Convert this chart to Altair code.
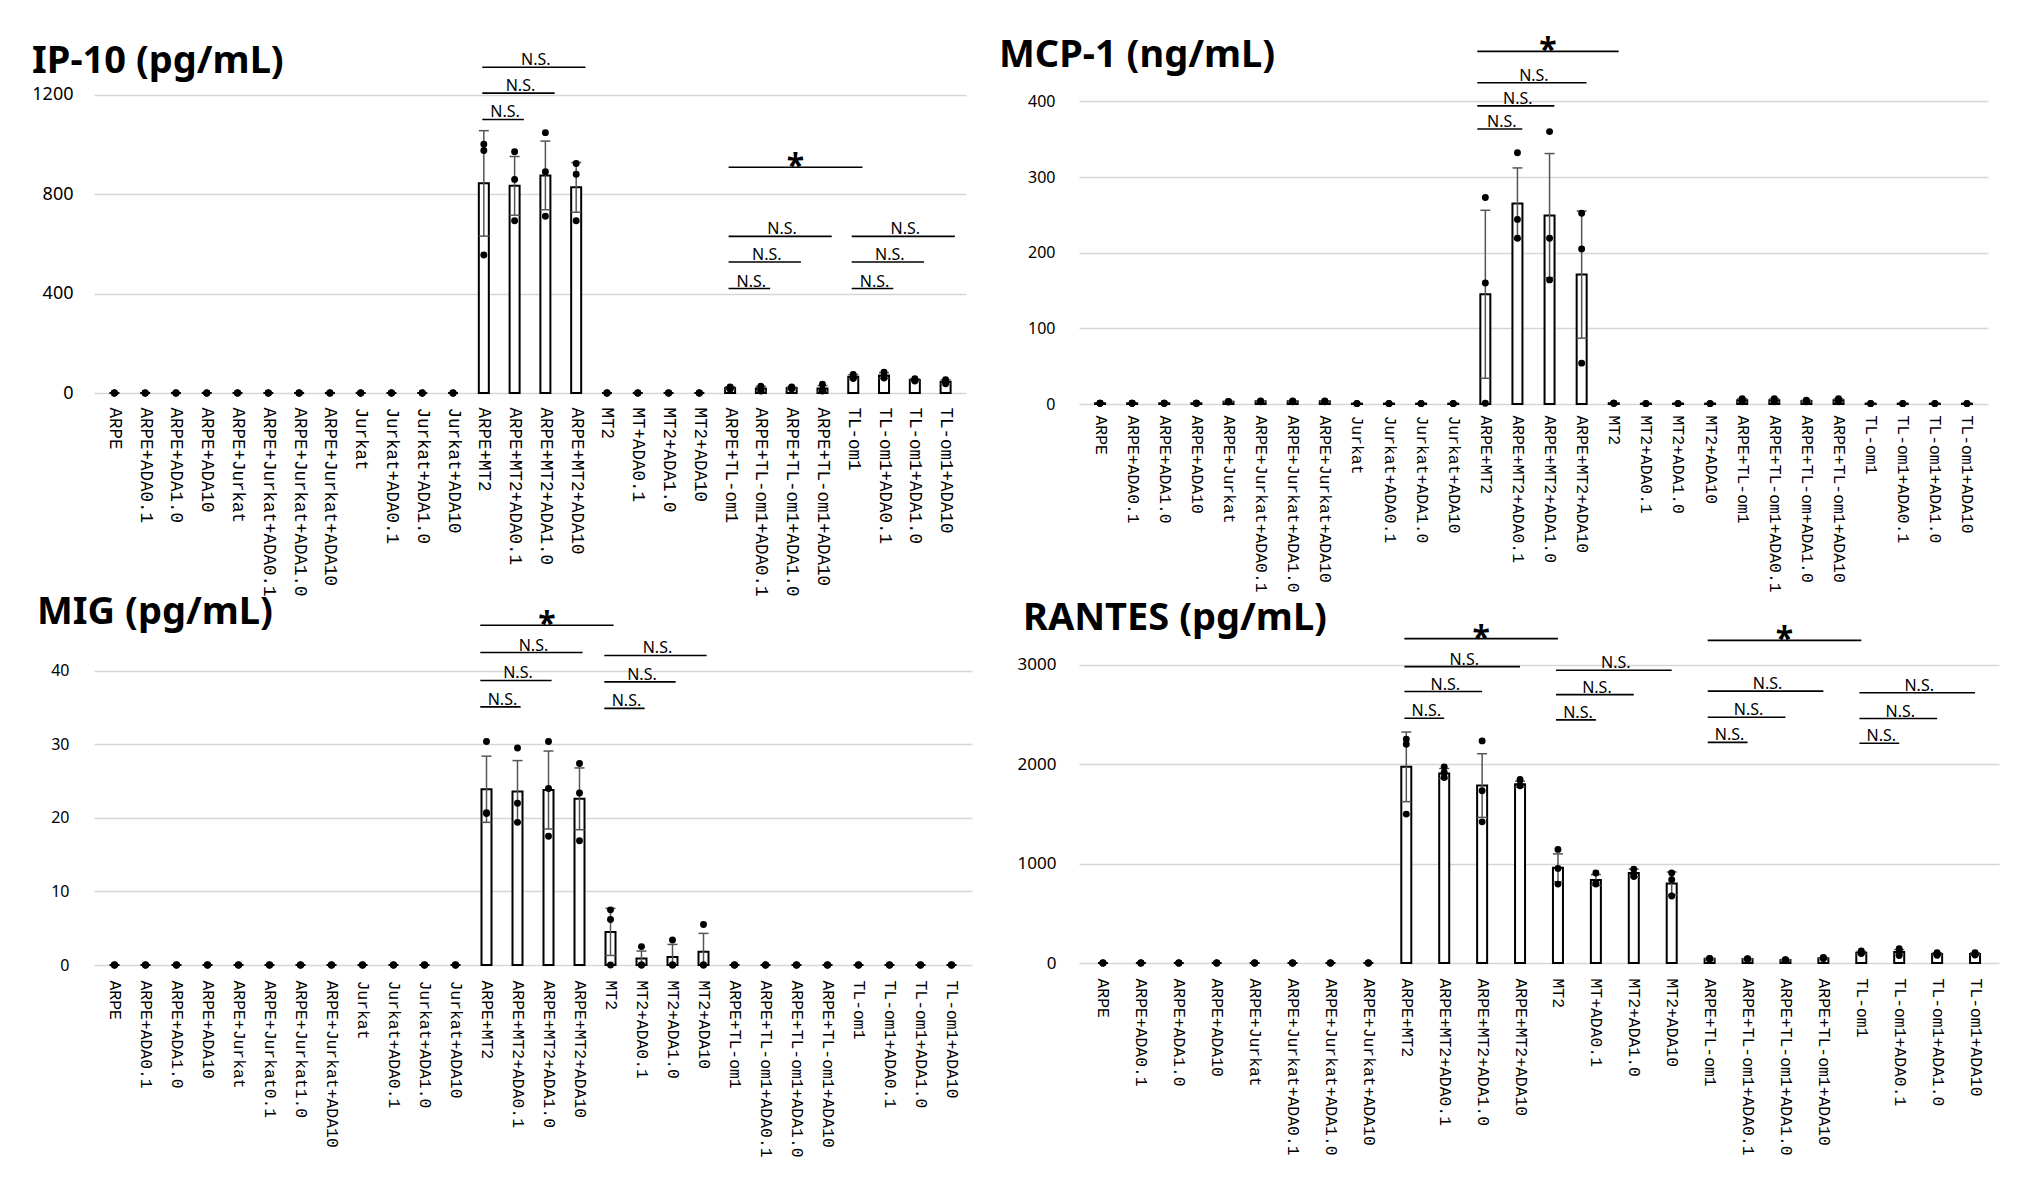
import json
import altair as alt
import pandas as pd

# ---------------- IP-10 ----------------
ip10_cats = ["ARPE", "ARPE+ADA0.1", "ARPE+ADA1.0", "ARPE+ADA10", "ARPE+Jurkat",
             "ARPE+Jurkat+ADA0.1", "ARPE+Jurkat+ADA1.0", "ARPE+Jurkat+ADA10",
             "Jurkat", "Jurkat+ADA0.1", "Jurkat+ADA1.0", "Jurkat+ADA10",
             "ARPE+MT2", "ARPE+MT2+ADA0.1", "ARPE+MT2+ADA1.0", "ARPE+MT2+ADA10",
             "MT2", "MT+ADA0.1", "MT2+ADA1.0", "MT2+ADA10",
             "ARPE+TL-om1", "ARPE+TL-om1+ADA0.1", "ARPE+TL-om1+ADA1.0", "ARPE+TL-om1+ADA10",
             "TL-om1", "TL-om1+ADA0.1", "TL-om1+ADA1.0", "TL-om1+ADA10"]
ip10_mean = [0, 0, 0, 0, 0, 0, 0, 0, 0, 0, 0, 0,
             843, 833, 875, 827, 0, 0, 0, 0,
             20, 18, 20, 18, 65, 70, 52, 45]
ip10_err = [0, 0, 0, 0, 0, 0, 0, 0, 0, 0, 0, 0,
            212, 118, 138, 100, 0, 0, 0, 0,
            5, 9, 4, 12, 9, 12, 5, 8]
ip10_pts = [[0, 0, 0], [0, 0, 0], [0, 0, 0], [0, 0, 0], [0, 0, 0], [0, 0, 0], [0, 0, 0],
            [0, 0, 0], [0, 0, 0], [0, 0, 0], [0, 0, 0], [0, 0, 0],
            [1000, 975, 555], [970, 859, 693], [1047, 890, 711], [923, 880, 693],
            [0, 0, 0], [0, 0, 0], [0, 0, 0], [0, 0, 0],
            [24, 21, 15], [27, 18, 8], [24, 20, 16], [35, 12, 8],
            [75, 62, 58], [84, 67, 60], [57, 52, 48], [53, 45, 37]]
ip10_brackets = [("ARPE+MT2", "ARPE+MT2+ADA0.1", 1100, "N.S."),
                 ("ARPE+MT2", "ARPE+MT2+ADA1.0", 1206, "N.S."),
                 ("ARPE+MT2", "ARPE+MT2+ADA10", 1310, "N.S."),
                 ("ARPE+TL-om1", "ARPE+TL-om1+ADA0.1", 420, "N.S."),
                 ("ARPE+TL-om1", "ARPE+TL-om1+ADA1.0", 527, "N.S."),
                 ("ARPE+TL-om1", "ARPE+TL-om1+ADA10", 630, "N.S."),
                 ("TL-om1", "TL-om1+ADA0.1", 420, "N.S."),
                 ("TL-om1", "TL-om1+ADA1.0", 527, "N.S."),
                 ("TL-om1", "TL-om1+ADA10", 630, "N.S."),
                 ("ARPE+TL-om1", "TL-om1", 908, "*")]
ip10_ticks = [0, 400, 800, 1200]

# ---------------- MCP-1 ----------------
mcp1_cats = ["ARPE", "ARPE+ADA0.1", "ARPE+ADA1.0", "ARPE+ADA10", "ARPE+Jurkat",
             "ARPE+Jurkat+ADA0.1", "ARPE+Jurkat+ADA1.0", "ARPE+Jurkat+ADA10",
             "Jurkat", "Jurkat+ADA0.1", "Jurkat+ADA1.0", "Jurkat+ADA10",
             "ARPE+MT2", "ARPE+MT2+ADA0.1", "ARPE+MT2+ADA1.0", "ARPE+MT2+ADA10",
             "MT2", "MT2+ADA0.1", "MT2+ADA1.0", "MT2+ADA10",
             "ARPE+TL-om1", "ARPE+TL-om1+ADA0.1", "ARPE+TL-om+ADA1.0", "ARPE+TL-om1+ADA10",
             "TL-om1", "TL-om1+ADA0.1", "TL-om1+ADA1.0", "TL-om1+ADA10"]
mcp1_mean = [1, 1, 1, 1, 3, 3.5, 3.5, 3.5, 0.5, 0.5, 0.5, 0.5,
             145, 265, 249, 171, 1, 0.5, 0.5, 0.5,
             5, 5, 4, 5, 0.5, 0.5, 0.5, 0.5]
mcp1_err = [0, 0, 0, 0, 0.5, 0.5, 0.5, 0.5, 0, 0, 0, 0,
            111, 47, 82, 84, 0, 0, 0, 0,
            2, 2, 1, 2, 0, 0, 0, 0]
mcp1_pts = [[1, 1, 1], [1, 1, 1], [1, 1, 1], [1, 1, 1], [3.5, 3, 2.5], [4, 3.5, 3], [4, 3.5, 3],
            [4, 3.5, 3], [0.5, 0.5, 0.5], [0.5, 0.5, 0.5], [0.5, 0.5, 0.5], [0.5, 0.5, 0.5],
            [273, 160, 1], [332, 244, 219], [360, 219, 164], [252, 205, 54],
            [1, 1, 1], [0.5, 0.5, 0.5], [0.5, 0.5, 0.5], [0.5, 0.5, 0.5],
            [7, 5, 3], [7, 5, 3], [5, 4, 3], [7, 5, 3],
            [0.5, 0.5, 0.5], [0.5, 0.5, 0.5], [0.5, 0.5, 0.5], [0.5, 0.5, 0.5]]
mcp1_brackets = [("ARPE+MT2", "ARPE+MT2+ADA0.1", 363.5, "N.S."),
                 ("ARPE+MT2", "ARPE+MT2+ADA1.0", 394, "N.S."),
                 ("ARPE+MT2", "ARPE+MT2+ADA10", 424.5, "N.S."),
                 ("ARPE+MT2", "MT2", 466, "*")]
mcp1_ticks = [0, 100, 200, 300, 400]

# ---------------- MIG ----------------
mig_cats = ["ARPE", "ARPE+ADA0.1", "ARPE+ADA1.0", "ARPE+ADA10", "ARPE+Jurkat",
            "ARPE+Jurkat0.1", "ARPE+Jurkat1.0", "ARPE+Jurkat+ADA10",
            "Jurkat", "Jurkat+ADA0.1", "Jurkat+ADA1.0", "Jurkat+ADA10",
            "ARPE+MT2", "ARPE+MT2+ADA0.1", "ARPE+MT2+ADA1.0", "ARPE+MT2+ADA10",
            "MT2", "MT2+ADA0.1", "MT2+ADA1.0", "MT2+ADA10",
            "ARPE+TL-om1", "ARPE+TL-om1+ADA0.1", "ARPE+TL-om1+ADA1.0", "ARPE+TL-om1+ADA10",
            "TL-om1", "TL-om1+ADA0.1", "TL-om1+ADA1.0", "TL-om1+ADA10"]
mig_mean = [0, 0, 0, 0, 0, 0, 0, 0, 0, 0, 0, 0,
            23.9, 23.6, 23.8, 22.6, 4.5, 0.9, 1.1, 1.8,
            0, 0, 0, 0, 0, 0, 0, 0]
mig_err = [0, 0, 0, 0, 0, 0, 0, 0, 0, 0, 0, 0,
           4.5, 4.2, 5.3, 4.2, 3.2, 1.0, 1.7, 2.5,
           0, 0, 0, 0, 0, 0, 0, 0]
mig_pts = [[0, 0, 0], [0, 0, 0], [0, 0, 0], [0, 0, 0], [0, 0, 0], [0, 0, 0], [0, 0, 0],
           [0, 0, 0], [0, 0, 0], [0, 0, 0], [0, 0, 0], [0, 0, 0],
           [30.4, 20.7, 20.6], [29.5, 22.0, 19.4], [30.4, 24.0, 17.5], [27.4, 23.4, 16.9],
           [7.5, 6.2, 0], [2.5, 0, 0], [3.4, 0, 0], [5.5, 0, 0],
           [0, 0, 0], [0, 0, 0], [0, 0, 0], [0, 0, 0],
           [0, 0, 0], [0, 0, 0], [0, 0, 0], [0, 0, 0]]
mig_brackets = [("ARPE+MT2", "ARPE+MT2+ADA0.1", 35.1, "N.S."),
                ("ARPE+MT2", "ARPE+MT2+ADA1.0", 38.7, "N.S."),
                ("ARPE+MT2", "ARPE+MT2+ADA10", 42.5, "N.S."),
                ("ARPE+MT2", "MT2", 46.2, "*"),
                ("MT2", "MT2+ADA0.1", 34.9, "N.S."),
                ("MT2", "MT2+ADA1.0", 38.5, "N.S."),
                ("MT2", "MT2+ADA10", 42.1, "N.S.")]
mig_ticks = [0, 10, 20, 30, 40]

# ---------------- RANTES ----------------
rantes_cats = ["ARPE", "ARPE+ADA0.1", "ARPE+ADA1.0", "ARPE+ADA10", "ARPE+Jurkat",
               "ARPE+Jurkat+ADA0.1", "ARPE+Jurkat+ADA1.0", "ARPE+Jurkat+ADA10",
               "ARPE+MT2", "ARPE+MT2+ADA0.1", "ARPE+MT2+ADA1.0", "ARPE+MT2+ADA10",
               "MT2", "MT+ADA0.1", "MT2+ADA1.0", "MT2+ADA10",
               "ARPE+TL-om1", "ARPE+TL-om1+ADA0.1", "ARPE+TL-om1+ADA1.0", "ARPE+TL-om1+ADA10",
               "TL-om1", "TL-om1+ADA0.1", "TL-om1+ADA1.0", "TL-om1+ADA10"]
rantes_mean = [0, 0, 0, 0, 0, 0, 0, 0,
               1972, 1905, 1784, 1798, 957, 834, 904, 800,
               42, 40, 30, 48, 104, 110, 90, 90]
rantes_err = [0, 0, 0, 0, 0, 0, 0, 0,
              350, 50, 320, 30, 140, 55, 40, 115,
              5, 4, 5, 6, 12, 25, 12, 12]
rantes_pts = [[0, 0, 0], [0, 0, 0], [0, 0, 0], [0, 0, 0], [0, 0, 0], [0, 0, 0], [0, 0, 0], [0, 0, 0],
              [2250, 2200, 1497], [1972, 1915, 1865], [2233, 1731, 1419], [1845, 1790, 1781],
              [1142, 951, 793], [904, 805, 793], [944, 894, 870], [904, 837, 673],
              [45, 42, 37], [42, 40, 37], [33, 30, 27], [55, 48, 44],
              [121, 100, 95], [144, 111, 75], [104, 90, 78], [104, 88, 80]]
rantes_brackets = [("ARPE+MT2", "ARPE+MT2+ADA0.1", 2461, "N.S."),
                   ("ARPE+MT2", "ARPE+MT2+ADA1.0", 2729, "N.S."),
                   ("ARPE+MT2", "ARPE+MT2+ADA10", 2980, "N.S."),
                   ("ARPE+MT2", "MT2", 3261, "*"),
                   ("MT2", "MT+ADA0.1", 2444, "N.S."),
                   ("MT2", "MT2+ADA1.0", 2698, "N.S."),
                   ("MT2", "MT2+ADA10", 2943, "N.S."),
                   ("ARPE+TL-om1", "ARPE+TL-om1+ADA0.1", 2218, "N.S."),
                   ("ARPE+TL-om1", "ARPE+TL-om1+ADA1.0", 2470, "N.S."),
                   ("ARPE+TL-om1", "ARPE+TL-om1+ADA10", 2733, "N.S."),
                   ("TL-om1", "TL-om1+ADA0.1", 2210, "N.S."),
                   ("TL-om1", "TL-om1+ADA1.0", 2458, "N.S."),
                   ("TL-om1", "TL-om1+ADA10", 2717, "N.S."),
                   ("ARPE+TL-om1", "TL-om1", 3244, "*")]
rantes_ticks = [0, 1000, 2000, 3000]

XFONT = "Liberation Mono, DejaVu Sans Mono, monospace"


def panel(title, cats, means, errs, pts, brackets, ticks, ymax, width, height,
          title_dx, title_dy, ylab_size, ylab_pad, xlab_size, xlab_pad,
          start_off, end_off):
    n = len(cats)
    bars = pd.DataFrame({"idx": list(range(n)), "cat": cats, "mean": means, "err": errs})
    bars["lo"] = bars["mean"] - bars["err"]
    bars["hi"] = bars["mean"] + bars["err"]
    errdf = bars[bars["err"] > 0]
    prow = [{"idx": i, "v": v} for i, vals in enumerate(pts) for v in vals]
    pdf = pd.DataFrame(prow)
    brow = []
    for s, e, lvl, lab in brackets:
        x1 = cats.index(s) + start_off
        x2 = cats.index(e) + end_off
        brow.append({"x1": x1, "x2": x2, "xm": (x1 + x2) / 2, "y": lvl, "label": lab})
    bdf = pd.DataFrame(brow)

    label_expr = json.dumps(cats) + "[datum.value]"
    xscale = alt.Scale(domain=[-0.5, n - 0.5], nice=False, zero=False)
    yscale = alt.Scale(domain=[0, ymax], nice=False, zero=False)
    xaxis = alt.Axis(values=list(range(n)), labelExpr=label_expr, labelAngle=90,
                     labelAlign="left", labelBaseline="middle", labelFont=XFONT,
                     labelFontSize=xlab_size, labelColor="black", labelPadding=xlab_pad,
                     labelOverlap=False, labelFlush=False, labelLimit=400,
                     domain=False, ticks=False, grid=False, title=None)
    yaxis = alt.Axis(values=ticks, format="d", labelFont="Noto Sans", labelFontSize=ylab_size,
                     labelColor="black", labelPadding=ylab_pad, domain=False, ticks=False,
                     grid=True, gridColor="#d6d6d6", gridWidth=1.3, title=None,
                     labelFlush=False, labelOverlap=False)

    X = lambda f: alt.X(f, scale=xscale, axis=xaxis)
    Y = lambda f: alt.Y(f, scale=yscale, axis=yaxis)

    bar = alt.Chart(bars).mark_bar(size=10, fill="white", stroke="black", strokeWidth=2,
                                   orient="vertical").encode(x=X("idx:Q"), y=Y("mean:Q"))
    erule = alt.Chart(errdf).mark_rule(color="#555555", strokeWidth=1.5, clip=True).encode(
        x=X("idx:Q"), y=Y("lo:Q"), y2="hi:Q")
    ecap = alt.Chart(errdf).transform_fold(["lo", "hi"], as_=["k", "ev"]).mark_tick(
        orient="horizontal", size=10, thickness=1.5, color="#555555", clip=True,
        opacity=1).encode(x=X("idx:Q"), y=Y("ev:Q"))
    dots = alt.Chart(pdf).mark_circle(size=48, color="black", opacity=1).encode(
        x=X("idx:Q"), y=Y("v:Q"))
    brule = alt.Chart(bdf).mark_rule(color="black", strokeWidth=1.6).encode(
        x=X("x1:Q"), x2="x2:Q", y=Y("y:Q"))
    ns = alt.Chart(bdf).transform_filter(alt.datum.label == "N.S.").mark_text(
        font="Noto Sans", fontSize=16, color="black", baseline="alphabetic", dy=-2, dx=2
    ).encode(x=X("xm:Q"), y=Y("y:Q"), text="label:N")
    star = alt.Chart(bdf).transform_filter(alt.datum.label == "*").mark_text(
        font="Noto Sans", fontSize=32, fontWeight="bold", color="black",
        baseline="alphabetic", dy=10).encode(x=X("xm:Q"), y=Y("y:Q"), text="label:N")

    return alt.layer(bar, erule, ecap, dots, brule, ns, star).properties(
        width=width, height=height,
        title=alt.TitleParams(text=title, anchor="start", frame="group", orient="top",
                              offset=0, dx=title_dx, dy=title_dy,
                              font="Noto Sans", fontSize=38, fontWeight="bold",
                              color="black"))


p_ip10 = panel("IP-10 (pg/mL)", ip10_cats, ip10_mean, ip10_err, ip10_pts, ip10_brackets,
               ip10_ticks, 1500, 872, 373, -62, 61, 18, 21, 17.5, 14, -0.05, 0.3)
p_mcp1 = panel("MCP-1 (ng/mL)", mcp1_cats, mcp1_mean, mcp1_err, mcp1_pts, mcp1_brackets,
               mcp1_ticks, 507.5, 909, 384, -80, 55, 16, 24, 16.4, 11, -0.25, 0.15)
p_mig = panel("MIG (pg/mL)", mig_cats, mig_mean, mig_err, mig_pts, mig_brackets,
              mig_ticks, 51, 878, 375, -57, 42, 16, 25, 16.4, 15, -0.2, 0.1)
p_rantes = panel("RANTES (pg/mL)", rantes_cats, rantes_mean, rantes_err, rantes_pts,
                 rantes_brackets, rantes_ticks, 3750, 920, 373, -56, 48, 17, 23, 16.4, 15,
                 -0.05, 0.0)

chart = alt.concat(p_ip10, p_mcp1, p_mig, p_rantes, columns=2,
                   spacing={"row": 186, "column": 107}, bounds="flush", align="each").properties(
    padding={"left": 23, "top": 12, "right": 5, "bottom": 5}
).configure(background="white").configure_view(strokeWidth=0, stroke="transparent")

chart.save("out.html", embed_options={"renderer": "svg", "actions": False})
